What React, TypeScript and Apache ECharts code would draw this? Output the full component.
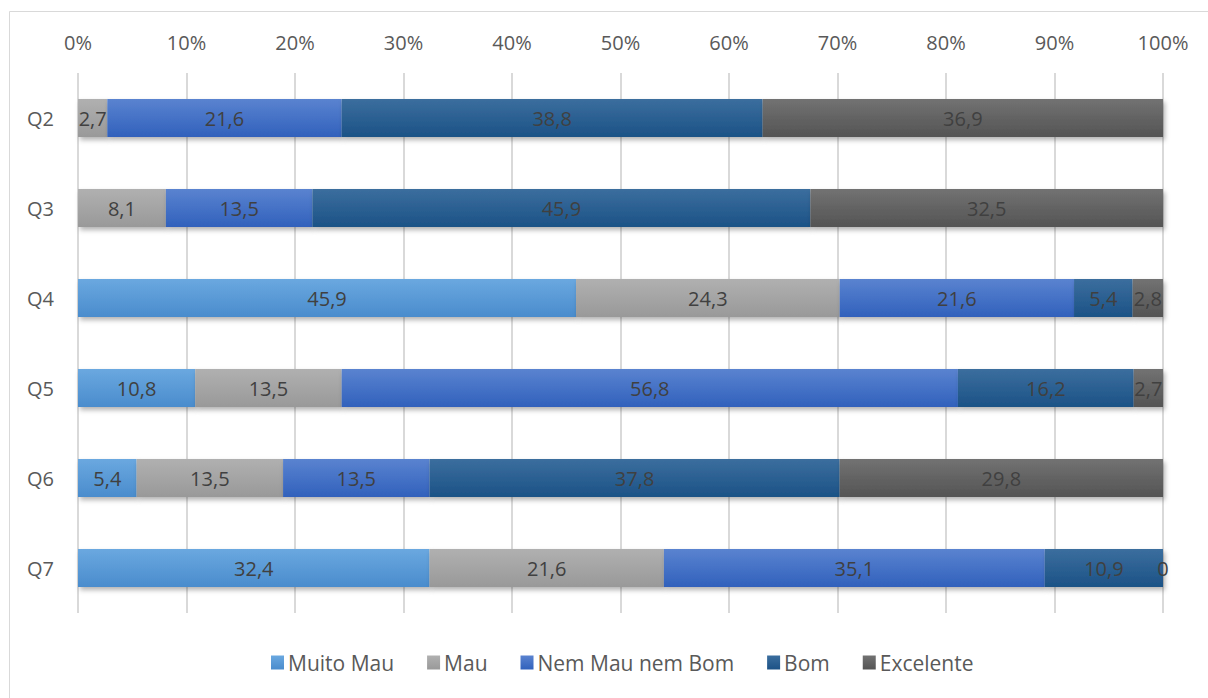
import React, { useEffect, useRef } from "react";
import * as echarts from "echarts";

const categories = ["Q2", "Q3", "Q4", "Q5", "Q6", "Q7"];
const seriesNames = ["Muito Mau", "Mau", "Nem Mau nem Bom", "Bom", "Excelente"];
const muitoMau = [null, null, 45.9, 10.8, 5.4, 32.4];
const mau = [2.7, 8.1, 24.3, 13.5, 13.5, 21.6];
const nemMauNemBom = [21.6, 13.5, 21.6, 56.8, 13.5, 35.1];
const bom = [38.8, 45.9, 5.4, 16.2, 37.8, 10.9];
const excelente = [36.9, 32.5, 2.8, 2.7, 29.8, 0];

const palette = [
  ["#6aa8e0", "#4a8ccd"],
  ["#b0b0b0", "#999999"],
  ["#5a83d0", "#3161bc"],
  ["#3b6e9e", "#1c5286"],
  ["#727272", "#545454"],
];

export default function App() {
  const ref = useRef<HTMLDivElement>(null);
  useEffect(() => {
    document.body.style.margin = "0";
    const chart = echarts.init(ref.current!, null, { renderer: "svg" });
    const dataSets = [muitoMau, mau, nemMauNemBom, bom, excelente];
    const font = "Open Sans, sans-serif";
    chart.setOption({
      animation: false,
      graphic: [
        {
          type: "rect",
          shape: { x: 9.5, y: 11.5, width: 1220, height: 710 },
          style: { fill: "none", stroke: "#d9d9d9", lineWidth: 1 },
          silent: true,
        },
      ],
      grid: { left: 78, right: 45, top: 73, bottom: 85 },
      legend: {
        top: 647,
        left: 266,
        itemWidth: 13,
        itemHeight: 14,
        itemGap: 33,
        icon: "rect",
        textStyle: { color: "#595959", fontSize: 21, fontFamily: font, padding: [0, 0, 0, -1] },
        data: seriesNames,
      },
      xAxis: {
        type: "value",
        position: "top",
        min: 0,
        max: 100,
        interval: 10,
        axisLine: { show: false },
        axisTick: { show: false },
        axisLabel: {
          formatter: "{value}%",
          color: "#595959",
          fontSize: 20,
          fontFamily: font,
          margin: 21,
        },
        splitLine: { lineStyle: { color: "#d9d9d9", width: 2 } },
      },
      yAxis: {
        type: "category",
        data: categories,
        inverse: true,
        axisLine: { show: false },
        axisTick: { show: false },
        axisLabel: { color: "#595959", fontSize: 20, fontFamily: font, margin: 24 },
      },
      series: seriesNames.map((name, i) => ({
        name,
        type: "bar",
        stack: "total",
        barWidth: "42%",
        data: dataSets[i],
        itemStyle: {
          color: new echarts.graphic.LinearGradient(0, 0, 0, 1, [
            { offset: 0, color: palette[i][0] },
            { offset: 1, color: palette[i][1] },
          ]),
          shadowBlur: 5,
          shadowOffsetX: 2,
          shadowOffsetY: 3,
          shadowColor: "rgba(0,0,0,0.3)",
        },
        label: {
          show: true,
          position: "inside",
          color: "#404040",
          fontSize: 20,
          fontFamily: font,
          formatter: (p: any) =>
            p.value == null ? "" : String(p.value).replace(".", ","),
        },
      })),
    });
    return () => chart.dispose();
  }, []);
  return <div ref={ref} style={{ width: 1208, height: 698 }} />;
}
